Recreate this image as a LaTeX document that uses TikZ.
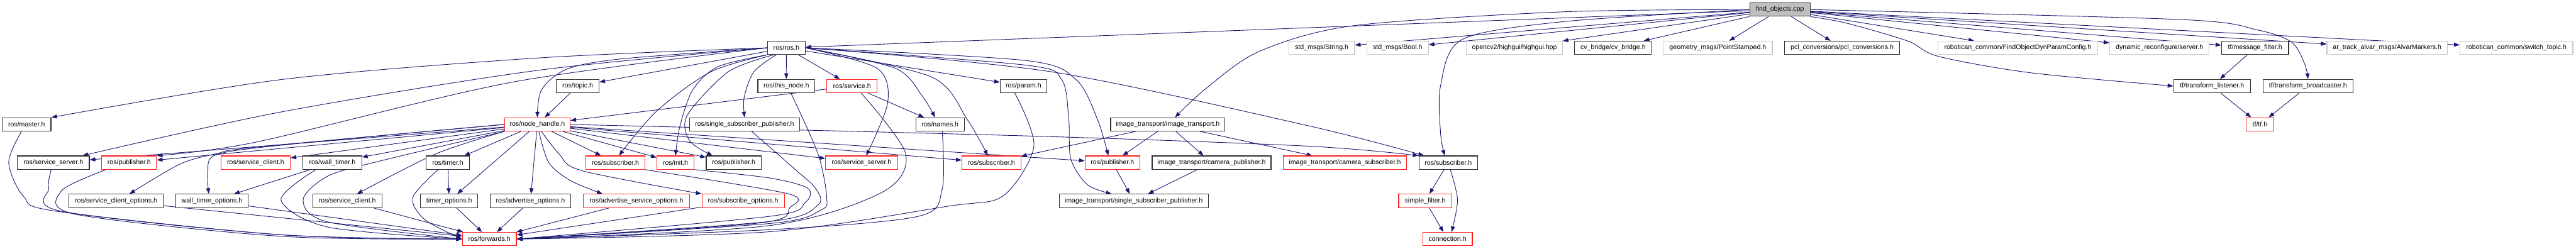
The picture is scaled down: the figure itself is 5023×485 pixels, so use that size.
\documentclass[tikz,border=0pt]{standalone}
\usepackage{fontspec}
\setmainfont{Liberation Sans}
\usetikzlibrary{arrows.meta,backgrounds}
\definecolor{edgecol}{HTML}{191970}
\definecolor{redb}{HTML}{FF2020}
\definecolor{blkb}{HTML}{303030}
\definecolor{gryb}{HTML}{C8C8C8}
\definecolor{rootfill}{HTML}{BFBFBF}
\tikzset{
  box/.style={line width=1.4pt, fill=white, minimum height=26pt, inner sep=0pt, anchor=center,
    font=\fontsize{13pt}{15pt}\selectfont},
  bk/.style={box, draw=blkb},
  rd/.style={box, draw=redb},
  gy/.style={box, draw=gryb},
  rootbox/.style={box, draw=blkb, fill=rootfill},
  edge/.style={draw=edgecol, line width=1.1pt, -{Triangle[length=11pt,width=8pt]}},
}
\begin{document}
\begin{tikzpicture}[x=1pt,y=-1pt]
\useasboundingbox (0,0) rectangle (5023,485);
% row 0
\node[rootbox, minimum width=117.7pt] (find) at (3470.6,18.7) {find\_objects.cpp};
% row 1
\node[bk, minimum width=73.9pt] (rosh) at (1533.3,93.3) {ros/ros.h};
\node[gy, minimum width=128.4pt] (strmsg) at (2577.2,93.3) {std\_msgs/String.h};
\node[gy, minimum width=119.9pt] (boolmsg) at (2725.2,93.3) {std\_msgs/Bool.h};
\node[gy, minimum width=186.9pt] (highgui) at (2953.0,93.3) {opencv2/highgui/highgui.hpp};
\node[bk, minimum width=149.6pt] (cvb) at (3145.3,93.3) {cv\_bridge/cv\_bridge.h};
\node[gy, minimum width=212.3pt] (geom) at (3349.5,93.3) {geometry\_msgs/PointStamped.h};
\node[bk, minimum width=225.3pt] (pcl) at (3591.9,93.3) {pcl\_conversions/pcl\_conversions.h};
\node[gy, minimum width=311.2pt] (dyncfg) at (3934.6,93.3) {robotican\_common/FindObjectDynParamConfig.h};
\node[gy, minimum width=193.9pt] (dynsrv) at (4210.8,93.3) {dynamic\_reconfigure/server.h};
\node[bk, minimum width=130.7pt] (msgf) at (4397.2,93.3) {tf/message\_filter.h};
\node[gy, minimum width=234.8pt] (alvar) at (4654.8,93.3) {ar\_track\_alvar\_msgs/AlvarMarkers.h};
\node[gy, minimum width=220.0pt] (swtopic) at (4906.8,93.3) {robotican\_common/switch\_topic.h};
% row 2
\node[bk, minimum width=83.1pt] (topic) at (1126.5,167.8) {ros/topic.h};
\node[bk, minimum width=111.0pt] (thisnode) at (1533.2,167.8) {ros/this\_node.h};
\node[rd, minimum width=97.9pt] (service) at (1661.2,167.8) {ros/service.h};
\node[bk, minimum width=90.8pt] (param) at (1995.8,167.8) {ros/param.h};
\node[bk, minimum width=149.6pt] (tflist) at (4313.2,167.8) {tf/transform\_listener.h};
\node[bk, minimum width=175.1pt] (tfbc) at (4500.3,167.8) {tf/transform\_broadcaster.h};
% row 3
\node[bk, minimum width=95.1pt] (master) at (51.8,242.7) {ros/master.h};
\node[rd, minimum width=127.5pt] (nh) at (1047.8,242.7) {ros/node\_handle.h};
\node[bk, minimum width=214.1pt] (ssp) at (1451.9,242.7) {ros/single\_subscriber\_publisher.h};
\node[bk, minimum width=94.7pt] (names) at (1833.3,242.7) {ros/names.h};
\node[bk, minimum width=223.0pt] (it) at (2277.1,242.7) {image\_transport/image\_transport.h};
\node[rd, minimum width=53.7pt] (tftf) at (4406.6,242.7) {tf/tf.h};
% row 4
\node[bk, minimum width=140.3pt] (ssrvA) at (103.9,317.2) {ros/service\_server.h};
\node[rd, minimum width=106.7pt] (pubA) at (251.9,317.2) {ros/publisher.h};
\node[rd, minimum width=134.8pt] (sclA) at (498.5,317.2) {ros/service\_client.h};
\node[bk, minimum width=114.7pt] (wt) at (647.9,317.2) {ros/wall\_timer.h};
\node[bk, minimum width=84.2pt] (timer) at (873.2,317.2) {ros/timer.h};
\node[rd, minimum width=115.1pt] (subA) at (1200.0,317.2) {ros/subscriber.h};
\node[rd, minimum width=72.2pt] (init) at (1317.1,317.2) {ros/init.h};
\node[bk, minimum width=106.9pt] (pubB) at (1430.6,317.2) {ros/publisher.h};
\node[rd, minimum width=140.3pt] (ssrvB) at (1680.0,317.2) {ros/service\_server.h};
\node[rd, minimum width=114.7pt] (subB) at (1933.1,317.2) {ros/subscriber.h};
\node[rd, minimum width=106.7pt] (pubC) at (2169.1,317.2) {ros/publisher.h};
\node[bk, minimum width=231.8pt] (campub) at (2362.5,317.2) {image\_transport/camera\_publisher.h};
\node[rd, minimum width=240.1pt] (camsub) at (2622.4,317.2) {image\_transport/camera\_subscriber.h};
\node[bk, minimum width=114.7pt] (subC) at (2824.0,317.2) {ros/subscriber.h};
% row 5
\node[bk, minimum width=184.2pt] (sco) at (226.4,391.8) {ros/service\_client\_options.h};
\node[bk, minimum width=141.7pt] (wto) at (413.2,391.8) {wall\_timer\_options.h};
\node[bk, minimum width=134.7pt] (sclB) at (677.2,391.8) {ros/service\_client.h};
\node[bk, minimum width=111.2pt] (tmo) at (875.8,391.8) {timer\_options.h};
\node[bk, minimum width=157.3pt] (adv) at (1034.3,391.8) {ros/advertise\_options.h};
\node[rd, minimum width=206.9pt] (advs) at (1241.0,391.8) {ros/advertise\_service\_options.h};
\node[rd, minimum width=160.7pt] (subo) at (1449.0,391.8) {ros/subscribe\_options.h};
\node[bk, minimum width=290.8pt] (itssp) at (2210.6,391.8) {image\_transport/single\_subscriber\_publisher.h};
\node[rd, minimum width=103.1pt] (sf) at (2778.9,391.8) {simple\_filter.h};
% row 6
\node[rd, minimum width=105.2pt] (fwd) at (954.2,466.2) {ros/forwards.h};
\node[rd, minimum width=96.4pt] (conn) at (2822.5,466.2) {connection.h};

\begin{pgfonlayer}{background}
% from find_objects.cpp
\foreach \t in {rosh,strmsg,boolmsg,highgui,cvb,geom,pcl,dyncfg,dynsrv,msgf,alvar,swtopic}
  \draw[edge] (find) -- (\t);
\draw[edge] plot[smooth] coordinates {(find.south east) (3600,45) (3720,80) (3780,110) (3960,142) (tflist.west)};
\draw[edge] plot[smooth] coordinates {(find.east) (4250,38) (4400,58) (4468,82) (4494,125) (tfbc.north)};
\draw[edge] plot[smooth] coordinates {(find.west) (3050,23) (2640,50) (2456,100) (2351,173) ([xshift=14pt]it.north)};
\draw[edge] plot[smooth] coordinates {(find.west) (3050,42) (2851,77) (2809,167) (2809,260) ([xshift=-7pt]subC.north)};
% from ros/ros.h
\foreach \t in {topic,thisnode,service,param}
  \draw[edge] (rosh) -- (\t);
\draw[edge] plot[smooth] coordinates {(rosh.west) (1050,113) (550,155) (master.north east)};
\draw[edge] plot[smooth] coordinates {(rosh.west) (1050,137) (550,218) ([xshift=57pt]ssrvA.north)};
\draw[edge] plot[smooth] coordinates {(rosh.west) (1000,160) (500,277) (pubA.north east)};
\draw[edge] plot[smooth] coordinates {(rosh.west) (1210,115) (1105,135) (1056,175) (nh.north)};
\draw[edge] plot[smooth] coordinates {([xshift=-20pt]rosh.south) (1470,140) (1451,190) (ssp.north)};
\draw[edge] plot[smooth] coordinates {(rosh.south west) (1386,140) (1280,217) ([xshift=7pt]subA.north)};
\draw[edge] plot[smooth] coordinates {(rosh.south west) (1400,130) (1351,175) (1326,245) (init.north)};
\draw[edge] plot[smooth] coordinates {([xshift=-25pt]rosh.south) (1420,140) (1340,225) (1345,275) ([xshift=-41pt]pubB.north)};
\draw[edge] plot[smooth] coordinates {(rosh.east) (1710,133) (1731,200) ([xshift=9pt]ssrvB.north)};
\draw[edge] plot[smooth] coordinates {(rosh.east) (1745,133) (1798,187) ([xshift=-10pt]names.north)};
\draw[edge] plot[smooth] coordinates {(rosh.east) (1816,150) (1886,233) ([xshift=-7pt]subB.north)};
\draw[edge] plot[smooth] coordinates {(rosh.east) (2000,118) (2098,155) (2140,233) ([xshift=-8pt]pubC.north)};
\draw[edge] plot[smooth] coordinates {(rosh.east) (2000,127) (2070,155) (2084,233) (2088,310) (2120,360) ([xshift=-43pt]itssp.north)};
\draw[edge] plot[smooth] coordinates {(rosh.east) (2050,140) (2550,245) ([xshift=-47pt]subC.north)};
% into node_handle
\draw[edge] (topic) -- (nh);
\draw[edge] (service) -- (nh);
\draw[edge] (service) -- (names);
% from node_handle
\foreach \t in {ssrvA,pubA,sclA,wt,timer,tmo,adv,subA,init,pubB,ssrvB,subB,pubC}
  \draw[edge] (nh) -- (\t);
\draw[edge] plot[smooth] coordinates {(nh.west) (500,287) (421,300) (351,320) ([xshift=26pt]sco.north)};
\draw[edge] plot[smooth] coordinates {(nh.west) (550,283) (421,302) (405,335) ([xshift=-6pt]wto.north)};
\draw[edge] plot[smooth] coordinates {(nh.south west) (850,300) ([xshift=19pt]sclB.north)};
\draw[edge] plot[smooth] coordinates {([xshift=3pt]nh.south) (1070,317) (1112,352) ([xshift=-66pt]advs.north)};
\draw[edge] plot[smooth] coordinates {([xshift=8pt]nh.south) (1090,300) (1135,333) (subo.north west)};
\draw[edge] plot[smooth] coordinates {(nh.east) (2000,265) (2550,285) (subC.north west)};
\draw[edge] plot[smooth] coordinates {(nh.south west) (745,313) (640,343) (591,390) (640,433) (fwd.west)};
% timers etc.
\draw[edge] (wt) -- (wto);
\draw[edge] (timer) -- (tmo);
\draw[edge] plot[smooth] coordinates {([xshift=-32pt]wt.south) (548,390) (640,443) (fwd.west)};
\draw[edge] plot[smooth] coordinates {([xshift=-19pt]timer.south) (805,385) (828,428) (fwd.west)};
% into forwards
\foreach \s in {sclB,tmo,adv,advs,subo,sco,wto}
  \draw[edge] (\s) -- (fwd);
\draw[edge] plot[smooth] coordinates {([xshift=-10pt]master.south) (17,317) (46,383) (110,412) (550,458) (fwd.west)};
\draw[edge] plot[smooth] coordinates {([xshift=-4pt]ssrvA.south) (95,367) (120,412) (550,458) (fwd.west)};
\draw[edge] plot[smooth] coordinates {([xshift=-45pt]pubA.south) (120,372) (148,418) (550,461) (fwd.west)};
\draw[edge] plot[smooth] coordinates {(subA.south east) (1537,378) (1540,405) (1480,435) (fwd.east)};
\draw[edge] plot[smooth] coordinates {(init.south east) (1500,347) (1575,367) (1570,395) (1500,422) (fwd.east)};
\draw[edge] plot[smooth] coordinates {([xshift=14pt]ssp.south) (1550,330) (1590,367) (1595,400) (1500,432) (fwd.east)};
\draw[edge] plot[smooth] coordinates {([xshift=9pt]thisnode.south) (1595,300) (1612,385) (1600,410) (1500,436) (fwd.east)};
\draw[edge] plot[smooth] coordinates {([xshift=18pt]service.south) (1766,300) (1720,375) (1500,440) (fwd.east)};
\draw[edge] plot[smooth] coordinates {([xshift=4pt]names.south) (1837,370) (1790,422) (1500,448) (fwd.east)};
\draw[edge] plot[smooth] coordinates {([xshift=-17pt]param.south) (2016,285) (1956,382) (1850,402) (1500,452) (fwd.east)};
% image_transport
\foreach \t in {pubC,campub,camsub,subB}
  \draw[edge] (it) -- (\t);
\draw[edge] (pubC) -- (itssp);
\draw[edge] (campub) -- (itssp);
% message_filters subscriber
\draw[edge] (subC) -- (sf);
\draw[edge] (sf) -- (conn);
\draw[edge] plot[smooth] coordinates {([xshift=4pt]subC.south) (2842,390) ([xshift=8pt]conn.north)};
% tf
\draw[edge] (msgf) -- (tflist);
\draw[edge] (tflist) -- (tftf);
\draw[edge] (tfbc) -- (tftf);
\end{pgfonlayer}
\end{tikzpicture}
\end{document}
